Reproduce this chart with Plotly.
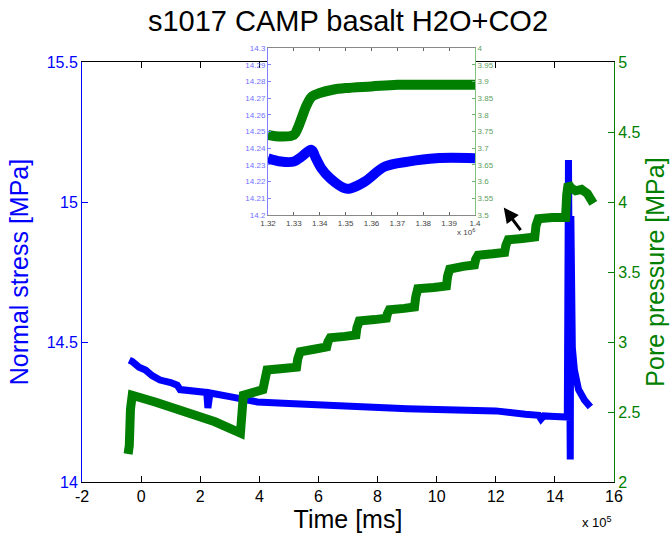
import plotly.graph_objects as go

# ---------------- data (main, time in units of 1e5 ms) ----------------
stress_t = [-0.40, -0.30, -0.07, 0.15, 0.37, 0.64, 1.0, 1.22, 1.32, 1.8, 2.22, 2.26, 2.29, 2.33,
            3.0, 3.36, 3.93, 5.0, 7.0, 9.0, 11.0, 12.0, 13.0, 13.45, 13.53, 13.62, 14.0, 14.42,
            14.46, 14.48, 14.50, 14.52, 14.54, 14.56, 14.59, 14.66, 14.8, 15.0, 15.2]
stress_v = [14.435, 14.43, 14.41, 14.40, 14.38, 14.364, 14.355, 14.346, 14.33, 14.326, 14.32, 14.264, 14.30, 14.318,
            14.305, 14.30, 14.286, 14.28, 14.268, 14.262, 14.256, 14.254, 14.242, 14.238, 14.225, 14.236, 14.234, 14.232,
            15.15, 14.08, 15.15, 14.08, 14.95, 14.62, 14.48, 14.40, 14.33, 14.293, 14.268]

pore_t = [-0.44, -0.40, -0.36, -0.30, 0.5, 1.5, 2.5, 3.36, 3.40, 3.46, 3.8, 4.12,
          4.18, 4.26, 4.8, 5.26, 5.30, 5.38, 5.9, 6.28, 6.32, 6.40, 6.9, 7.27, 7.30, 7.38,
          7.9, 8.30, 8.33, 8.40, 8.9, 9.25, 9.29, 9.36, 9.9, 10.33, 10.37, 10.44, 10.9,
          11.28, 11.32, 11.40, 11.9, 12.30, 12.34, 12.42, 12.9, 13.32, 13.36, 13.44, 13.9,
          14.36, 14.40, 14.45, 14.55, 14.7, 14.9, 15.1, 15.3]
pore_v = [2.20, 2.26, 2.52, 2.62, 2.57, 2.50, 2.43, 2.35, 2.48, 2.62, 2.64, 2.66,
          2.72, 2.80, 2.81, 2.82, 2.88, 2.93, 2.95, 2.965, 3.00, 3.03, 3.04, 3.05, 3.10, 3.15,
          3.16, 3.17, 3.20, 3.23, 3.24, 3.25, 3.32, 3.38, 3.39, 3.40, 3.47, 3.52, 3.54,
          3.55, 3.59, 3.62, 3.63, 3.64, 3.69, 3.73, 3.74, 3.75, 3.83, 3.88, 3.89,
          3.89, 4.05, 4.13, 4.10, 4.08, 4.09, 4.06, 3.99]

# ---------------- data (inset, time in units of 1e6 ms) ----------------
in_stress_t = [1.320, 1.325, 1.330, 1.333, 1.3368, 1.3385, 1.3406, 1.344, 1.3497, 1.352, 1.3574,
               1.3652, 1.3742, 1.385, 1.400]
in_stress_v = [14.234, 14.232, 14.232, 14.235, 14.239, 14.234, 14.228, 14.222, 14.216, 14.216, 14.220,
               14.229, 14.232, 14.234, 14.234]
in_pore_t = [1.320, 1.325, 1.330, 1.3315, 1.333, 1.335, 1.337, 1.340, 1.345, 1.350, 1.360,
             1.370, 1.380, 1.390, 1.400]
in_pore_v = [3.740, 3.735, 3.740, 3.760, 3.790, 3.830, 3.855, 3.865, 3.875, 3.880, 3.885,
             3.890, 3.890, 3.890, 3.890]

main_xticks = [-2, 0, 2, 4, 6, 8, 10, 12, 14, 16]
main_xlabels = ["-2", "0", "2", "4", "6", "8", "10", "12", "14", "16"]
left_ticks = [14, 14.5, 15, 15.5]
left_labels = ["14", "14.5", "15", "15.5"]
right_ticks = [2, 2.5, 3, 3.5, 4, 4.5, 5]
right_labels = ["2", "2.5", "3", "3.5", "4", "4.5", "5"]
in_xticks = [1.32, 1.33, 1.34, 1.35, 1.36, 1.37, 1.38, 1.39, 1.40]
in_xlabels = ["1.32", "1.33", "1.34", "1.35", "1.36", "1.37", "1.38", "1.39", "1.4"]
in_left_ticks = [14.2, 14.21, 14.22, 14.23, 14.24, 14.25, 14.26, 14.27, 14.28, 14.29, 14.3]
in_left_labels = ["14.2", "14.21", "14.22", "14.23", "14.24", "14.25", "14.26", "14.27", "14.28", "14.29", "14.3"]
in_right_ticks = [3.5, 3.55, 3.6, 3.65, 3.7, 3.75, 3.8, 3.85, 3.9, 3.95, 4]
in_right_labels = ["3.5", "3.55", "3.6", "3.65", "3.7", "3.75", "3.8", "3.85", "3.9", "3.95", "4"]

BLUE = "#0000ff"
GREEN = "#007f00"
FONT = "Liberation Sans, Arial, sans-serif"

fig = go.Figure()
fig.add_trace(go.Scatter(x=stress_t, y=stress_v, mode="lines", line=dict(color=BLUE, width=7),
                         xaxis="x", yaxis="y", showlegend=False))
fig.add_trace(go.Scatter(x=pore_t, y=pore_v, mode="lines", line=dict(color=GREEN, width=9),
                         xaxis="x", yaxis="y2", showlegend=False))
fig.add_trace(go.Scatter(x=in_pore_t, y=in_pore_v, mode="lines", line=dict(color=GREEN, width=10, shape="spline"),
                         xaxis="x3", yaxis="y4", showlegend=False))
fig.add_trace(go.Scatter(x=in_stress_t, y=in_stress_v, mode="lines", line=dict(color=BLUE, width=10, shape="spline"),
                         xaxis="x3", yaxis="y3", showlegend=False))

L, R, T, B = 82, 58, 48, 56
PW = 672 - L - R
PH = 538 - T - B
main_top = (482 - 62) / PH

fig.update_layout(
    width=672, height=538,
    margin=dict(l=L, r=R, t=T, b=B, autoexpand=False),
    paper_bgcolor="white", plot_bgcolor="white",
    font=dict(family=FONT, color="black"),
    title=dict(text="s1017 CAMP basalt H2O+CO2", x=(L + L + PW) / 2 / 672, xanchor="center",
               y=1 - 21 / 538, yanchor="middle", font=dict(size=29, color="black")),
    xaxis=dict(domain=[0, 1], range=[-2, 16], tickvals=main_xticks, ticktext=main_xlabels,
               ticks="inside", ticklen=6, automargin=False,
               tickcolor="black", showline=True, linecolor="black", linewidth=1, mirror="ticks",
               showgrid=False, zeroline=False, tickfont=dict(size=16, color="black"),
               title=dict(text="Time [ms]", font=dict(size=25, color="black"), standoff=2)),
    yaxis=dict(domain=[0, main_top], range=[14, 15.5], tickvals=left_ticks, ticktext=left_labels,
               ticks="inside", ticklen=6, automargin=False,
               tickcolor=BLUE, showline=True, linecolor=BLUE, linewidth=1, showgrid=False,
               zeroline=False, tickfont=dict(size=16, color=BLUE),
               title=dict(text="Normal stress [MPa]", font=dict(size=25, color=BLUE), standoff=10)),
    yaxis2=dict(domain=[0, main_top], range=[2, 5], tickvals=right_ticks, ticktext=right_labels,
                ticks="inside", ticklen=6, automargin=False,
                tickcolor=GREEN, showline=True, linecolor=GREEN, linewidth=1, showgrid=False,
                zeroline=False, overlaying="y", side="right", anchor="x",
                tickfont=dict(size=16, color=GREEN),
                title=dict(text="Pore pressure [MPa]", font=dict(size=25, color=GREEN), standoff=6)),
    xaxis3=dict(domain=[(268 - L) / PW, (475 - L) / PW], range=[1.32, 1.40], anchor="y3",
                tickvals=in_xticks, ticktext=in_xlabels, ticks="inside", ticklen=3, tickcolor="#666",
                showline=True, linecolor="#888", linewidth=1, mirror="ticks", showgrid=False,
                zeroline=False, automargin=False, tickfont=dict(size=8, color="#444")),
    yaxis3=dict(domain=[(482 - 215) / PH, 1.0], range=[14.2, 14.3], anchor="x3",
                tickvals=in_left_ticks, ticktext=in_left_labels, ticks="inside", ticklen=3,
                tickcolor="#8080ff", automargin=False,
                showline=True, linecolor="#8080ff", linewidth=1, showgrid=False, zeroline=False,
                tickfont=dict(size=8, color="#7070ff")),
    yaxis4=dict(domain=[(482 - 215) / PH, 1.0], range=[3.5, 4.0], anchor="x3", overlaying="y3",
                side="right", tickvals=in_right_ticks, ticktext=in_right_labels, ticks="inside",
                ticklen=3, tickcolor="#70b070", automargin=False,
                showline=True, linecolor="#80c080", linewidth=1, showgrid=False,
                zeroline=False, tickfont=dict(size=8, color="#60a060")),
)

fig.add_annotation(text="x 10<sup>5</sup>", xref="paper", yref="paper", x=(597 - L) / PW,
                   y=(482 - 522) / PH, xanchor="center", yanchor="middle",
                   showarrow=False, font=dict(size=13, color="black"))
fig.add_annotation(text="x 10<sup>6</sup>", xref="paper", yref="paper", x=(466 - L) / PW,
                   y=(482 - 232) / PH, xanchor="center", yanchor="middle",
                   showarrow=False, font=dict(size=8, color="#444"))
fig.add_annotation(x=12.27, y=14.98, xref="x", yref="y", ax=18, ay=24, text="",
                   showarrow=True, arrowhead=2, arrowsize=1, arrowwidth=3, arrowcolor="black")

fig.write_html("out.html")
